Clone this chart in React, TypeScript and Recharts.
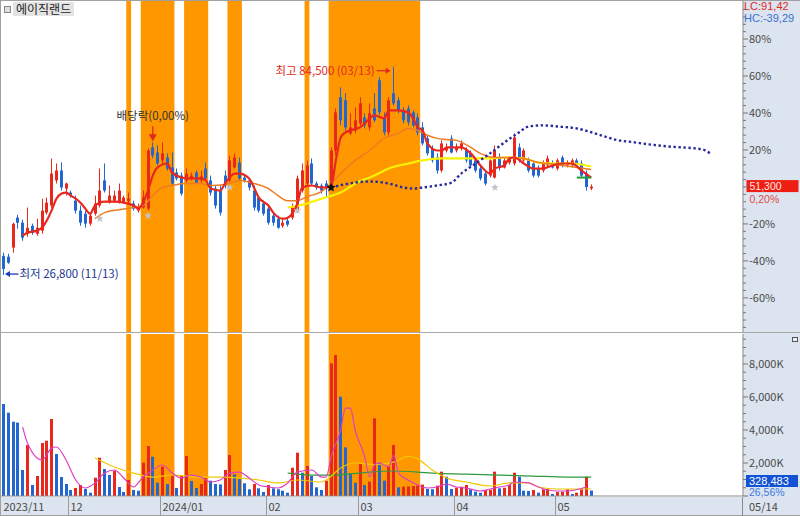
import React from 'react';
import {
  ComposedChart, Bar, Line, XAxis, YAxis, ReferenceArea, ReferenceDot, ReferenceLine,
} from 'recharts';

// ---------------- data ----------------
const stockName = '에이직랜드';
const BASE_PRICE = 51200; // 0% of the percentage scale
const TOTAL_SLOTS = 154; // trading days + future slots for the leading line

const opens = [32100,31900,34400,42700,41300,38250,40450,38250,39100,44100,
 46050,53000,55750,50750,49650,47400,44650,43800,41050,43800,
 46050,53000,46850,47400,46850,46850,47400,46600,44650,45500,
 45200,62150,60750,58550,59350,56600,55200,54350,53000,53550,
 55200,53000,56300,53000,50750,50200,54350,53000,56600,57950,
 53800,53000,50200,48250,46600,45200,43250,42400,40450,41850,
 42700,44650,50200,52150,57700,52150,51600,52150,50750,61300,
 76050,75200,66050,66850,68800,70450,67700,72950,80750,70450,
 66300,77150,75200,72400,72950,71850,70450,67700,64650,61850,
 59350,55750,61300,64650,61300,61850,61300,60500,58550,56300,
 54900,54350,53800,59350,56600,57950,57700,62150,58550,58550,
 57700,56300,55750,57150,57700,56300,59350,57150,57150,58550,
 57700,54900,50800];
const highs = [33000,32700,41300,43500,42150,45500,41050,42400,47950,48250,
 59100,57700,58000,52400,50200,48800,46050,44650,44100,48800,
 56300,57700,51600,50200,52150,48800,49650,47400,46600,50200,
 61850,63550,62700,63550,60500,60750,56300,55200,56300,55200,
 55750,55750,58000,54350,51600,51600,55750,59900,60500,59350,
 54350,53550,51600,48800,47400,46050,44100,43250,42400,42400,
 46600,54350,57700,58550,59100,52700,52150,53000,62150,72950,
 78800,77150,71600,73250,76050,71600,74350,77150,81600,71850,
 76050,84500,76050,73250,73800,72400,71600,69100,65500,62700,
 60500,64100,63250,65500,63250,64100,62150,61300,59350,57150,
 55750,59350,62700,60500,59350,59650,66050,63250,61850,59350,
 58550,57150,58550,59900,58550,59100,59900,58550,59100,59100,
 58550,55750,51900];
const lows = [26800,29900,33000,39650,36300,37400,37950,37700,38250,43550,
 45500,52150,50200,48800,48250,43800,40450,39900,40450,43250,
 45500,49650,46600,46850,46600,46600,46600,44650,44100,45200,
 44650,59100,57150,57700,55750,51600,53000,48800,52400,53000,
 52150,52150,53000,48800,45200,43250,50750,52400,56300,53000,
 52400,50200,44650,44100,43250,40750,40450,39650,39900,40200,
 42150,44100,49650,51600,51600,50450,49350,48250,50200,59900,
 68250,66850,65500,66050,68250,67400,66850,69100,71050,65500,
 65500,73800,71600,68800,68250,67700,65500,62700,59900,57950,
 54900,55200,60750,60500,60750,61300,57950,56600,55200,53000,
 51600,53800,53550,55750,56300,57400,57150,57950,57950,55200,
 53800,53800,55200,56600,56300,55750,56600,56600,56600,56600,
 53800,50200,50300];
const closes = [28500,30200,41000,41300,37150,39900,38550,39900,44650,46850,
 54900,55750,51050,52150,48800,44650,41300,41050,43250,46600,
 50200,50200,48800,48800,50200,48250,47950,45200,45750,48250,
 61300,59900,57700,60500,56300,52150,53550,49350,54900,54350,
 52400,54100,53550,49650,46050,44100,51600,58550,59350,53550,
 53000,51050,45500,44650,43800,41300,41300,39900,41300,40750,
 45500,53550,55750,57150,52150,51050,50200,50750,61300,71850,
 69650,67700,67700,69650,74350,68250,71600,69650,71850,66300,
 75200,74350,72400,69650,69100,68250,66300,63250,60500,58550,
 55750,63250,62150,60750,62150,63250,58550,57150,55750,53550,
 52150,58550,61300,56600,58550,59100,64900,58550,61300,55750,
 54350,54350,57950,59100,56600,58550,57150,57950,58550,57150,
 54350,51200,51300];
// volume in thousands of shares
const volumesK = [5575,5050,4500,4450,1575,3090,666,1212,3212,3350,
 4666,2545,1150,727,364,485,666,424,200,1110,
 2320,1636,1272,1533,545,242,970,364,320,2020,
 3030,2380,806,1776,727,1272,485,1272,2424,909,
 485,727,1090,930,727,700,1575,2485,1313,1030,
 770,406,727,466,242,666,466,406,320,200,
 1715,2626,1413,1818,1212,525,364,930,8040,8545,
 6020,2950,1375,806,1980,666,870,4710,2020,930,
 1818,3090,525,565,580,600,640,690,424,410,
 626,1475,1170,424,505,565,666,406,262,200,
 364,380,1475,466,500,666,1413,1170,320,300,
 364,200,406,420,120,242,260,406,120,200,
 406,1170,328.483];

// moving averages: [day index, value]
const ma5Pts: [number, number][] = [[4,37700],[5,38550],[7,39100],[8,39900],[10,44650],[11,47950],[12,49350],[13,49650],[14,48800],[16,46850],[17,45200],[18,43800],[19,46050],[21,47150],[23,47150],[25,46850],[27,46050],[28,45200],[30,50200],[31,54350],[32,56600],[34,57700],[35,55200],[37,53800],[38,53550],[41,53550],[42,53000],[43,50750],[45,50200],[46,52150],[48,54900],[49,54900],[51,53550],[52,51050],[53,48250],[55,46050],[56,44100],[58,42400],[59,42700],[61,46600],[62,51050],[64,51600],[66,51050],[68,51300],[69,58550],[70,64900],[71,66300],[72,66850],[74,67700],[75,68800],[77,71050],[79,70200],[80,72400],[82,72400],[84,71850],[85,70200],[86,67700],[87,66850],[88,63250],[90,61300],[91,61300],[92,62150],[95,62150],[97,60500],[99,57150],[101,54900],[102,56300],[104,57150],[105,59100],[106,59350],[108,57700],[110,56300],[112,56300],[114,57150],[116,57700],[118,57700],[120,55750],[122,53800]];
const ma20Pts: [number, number][] = [[19,42400],[21,44100],[24,44900],[27,45500],[29,46050],[31,48800],[33,51050],[35,51600],[38,52150],[41,52150],[43,51600],[46,51850],[49,53000],[52,52150],[55,50750],[57,48800],[59,47400],[61,47400],[63,48500],[66,49900],[68,52150],[70,54900],[73,58550],[76,61300],[79,64650],[82,66050],[84,67400],[86,66850],[88,65500],[90,64650],[92,64350],[94,64100],[97,62150],[99,60500],[102,59350],[105,59350],[108,59100],[111,57950],[113,57700],[116,57150],[119,56600],[122,56050]];
const ma60Pts: [number, number][] = [[59,45500],[63,46600],[66,47950],[70,49650],[73,52150],[77,54350],[80,56300],[84,57700],[87,58550],[91,59100],[94,59100],[97,59100],[101,59100],[104,59350],[108,59100],[111,57950],[115,57700],[118,57700],[122,56850]];
const leadPts: [number, number][] = [[68,51050],[73,52400],[76,52700],[80,52150],[83,51050],[85,50750],[87,51050],[90,51600],[93,52400],[95,54900],[98,57700],[101,60500],[104,63550],[107,66300],[109,67950],[112,68250],[115,67950],[119,67400],[124,65500],[127,64300],[131,63550],[134,63000],[138,62400],[141,62150],[145,61600],[147,60200]];
const volMa5Pts: [number, number][] = [[4,4180],[5,3210],[8,2180],[10,2900],[11,2970],[13,2180],[15,970],[17,485],[19,790],[21,1390],[23,1575],[25,1090],[27,545],[29,1150],[31,1575],[33,1880],[35,1390],[37,1090],[39,1270],[41,1150],[43,850],[45,970],[47,1390],[49,1450],[51,1090],[53,667],[55,545],[57,485],[59,790],[61,1450],[64,1575],[66,1150],[67,1150],[68,2360],[70,4000],[71,5330],[72,5330],[73,4000],[75,2360],[76,1150],[77,1880],[78,2000],[80,1760],[81,2480],[82,1390],[84,970],[86,667],[88,485],[90,545],[92,727],[94,545],[96,485],[99,303],[101,424],[103,545],[105,667],[106,850],[109,790],[111,545],[113,364],[115,303],[117,303],[121,545]];
const volMa20Pts: [number, number][] = [[19,2300],[23,1760],[27,1390],[31,1150],[35,1270],[41,1150],[45,1150],[49,1090],[53,970],[57,790],[61,970],[66,850],[67,970],[70,1700],[73,2000],[77,1900],[81,2050],[84,2400],[86,2250],[89,1575],[92,1090],[96,850],[101,606],[105,790],[109,790],[111,545],[115,424],[122,424]];
const volMa60Pts: [number, number][] = [[59,1390],[64,1270],[68,1270],[74,1390],[80,1515],[86,1450],[89,1390],[96,1330],[103,1270],[110,1210],[117,1150],[122,1150]];

const highlightBands: [number, number][] = [[26,26],[29,35],[38,42],[47,49],[63,63],[68,86]];
const monthTicks = [
  { i: 0, label: '2023/11' }, { i: 14, label: '12' }, { i: 33, label: '2024/01' },
  { i: 55, label: '02' }, { i: 74, label: '03' }, { i: 94, label: '04' }, { i: 115, label: '05' },
];
const signalPts: [number, number][] = [[20,42400],[30,43250],[47,51050],[61,44650],[102,51050]];
const starPt: [number, number] = [68, 51050];
const targetSeg: [number, number, number] = [119, 122, 53800];
const HIGH_IDX = 81, LOW_IDX = 0, EXDIV_IDX = 31;
const highDate = '03/13', lowDate = '11/13';
const lastDate = '05/14';
const lcText = 'LC:91,42', hcText = 'HC:-39,29';
const volRatioText = '26,56%';

const pricePctLabels = [-60, -40, -20, 20, 40, 60, 80];
const pricePctMinor = Array.from({ length: 44 }, (_, k) => -76 + k * 4);
const volLabelsK = [2000, 4000, 6000, 8000];
const volMinorK = Array.from({ length: 20 }, (_, k) => k * 500);

// ---------------- build table ----------------
const N = closes.length;
const mk = (pts: [number, number][]) => new Map(pts);
const m5 = mk(ma5Pts), m20 = mk(ma20Pts), m60 = mk(ma60Pts), ml = mk(leadPts);
const v5 = mk(volMa5Pts), v20 = mk(volMa20Pts), v60 = mk(volMa60Pts);
const data = Array.from({ length: TOTAL_SLOTS }, (_, i) => {
  const has = i < N;
  return {
    i,
    range: has ? [lows[i], highs[i]] : null,
    open: has ? opens[i] : null,
    high: has ? highs[i] : null,
    low: has ? lows[i] : null,
    close: has ? closes[i] : null,
    vol: has ? volumesK[i] : null,
    volUp: has && i > 0 ? volumesK[i] > volumesK[i - 1] : false,
    ma5: m5.get(i) ?? null,
    ma20: m20.get(i) ?? null,
    ma60: m60.get(i) ?? null,
    lead: ml.get(i) ?? null,
    vma5: v5.get(i) ?? null,
    vma20: v20.get(i) ?? null,
    vma60: v60.get(i) ?? null,
  };
});

const fmt = (n: number) => Math.round(n).toLocaleString('en-US');
const lastClose = closes[N - 1];
const prevClose = closes[N - 2];
const pctText = (((lastClose / prevClose) - 1) * 100).toFixed(2).replace('.', ',') + '%';
const lastVolText = fmt(volumesK[N - 1] * 1000);

const priceTicks = pricePctMinor.map((p) => BASE_PRICE * (1 + p / 100));
const PRICE_DOMAIN: [number, number] = [10750, 102700];
const VOL_DOMAIN: [number, number] = [0, 9818];

// ---------------- styles ----------------
const FONT = "'Noto Sans CJK KR', 'Noto Sans', sans-serif";
const NUM_FONT = "'Liberation Sans', Arial, sans-serif";
const UP = '#e8271d';
const DOWN = '#2266d2';
const BAND = '#ff9800';
const AXIS_BG = '#dce4ef';
const AXIS_TEXT = '#4a4a4a';

// ---------------- shapes ----------------
const renderCandle = (props: any) => {
  const { x, y, width, height, payload } = props;
  if (!payload || payload.close == null || x == null || y == null) return <g />;
  const top = Math.min(y, y + height);
  const h = Math.abs(height);
  const { open, close, high, low } = payload;
  const span = high - low || 1;
  const toY = (v: number) => top + ((high - v) / span) * h;
  const color = close >= open ? UP : DOWN;
  const cx = Math.floor(x + width / 2) + 0.5;
  const yo = toY(open), yc = toY(close);
  const bt = Math.min(yo, yc);
  const bh = Math.max(1, Math.abs(yo - yc));
  return (
    <g>
      <line x1={cx} x2={cx} y1={top} y2={top + h} stroke={color} strokeWidth={1} />
      <rect x={cx - 1.5} y={bt} width={3} height={bh} fill={color} />
    </g>
  );
};

const renderVolBar = (props: any) => {
  const { x, y, width, height, payload } = props;
  if (!payload || payload.vol == null || x == null) return <g />;
  const cx = Math.floor(x + width / 2) + 0.5;
  const top = Math.min(y, y + height);
  return <rect x={cx - 1.5} y={top} width={3} height={Math.abs(height)} fill={payload.volUp ? UP : DOWN} />;
};

const PriceTick = (props: any) => {
  const { x, y, payload } = props;
  const k = Math.round((payload.value / BASE_PRICE - 1) * 100);
  const major = k % 20 === 0;
  return (
    <g>
      <line x1={x} x2={x + (major ? 5 : 3)} y1={y} y2={y} stroke="#777" />
      {pricePctLabels.includes(k) && (
        <text x={x + 6} y={y + 4} fill={AXIS_TEXT} fontSize={11}>{`${k}%`}</text>
      )}
    </g>
  );
};

const VolTick = (props: any) => {
  const { x, y, payload } = props;
  const v = Math.round(payload.value);
  const major = v % 2000 === 0;
  return (
    <g>
      <line x1={x} x2={x + (major ? 5 : 3)} y1={y} y2={y} stroke="#777" />
      {volLabelsK.includes(v) && (
        <text x={x + 6} y={y + 4} fill={AXIS_TEXT} fontSize={11}>{`${fmt(v)}K`}</text>
      )}
    </g>
  );
};

const MonthTick = (props: any) => {
  const { x, y, payload } = props;
  const m = monthTicks.find((t) => t.i === payload.value);
  const off = payload.offset ?? 2.41;
  const left = Math.round(x - off) + 0.5;
  return (
    <g>
      {payload.value !== 0 && <line x1={left} x2={left} y1={y} y2={y + 20} stroke="#9a9a9a" />}
      <text x={left + 2} y={y + 15} fill={AXIS_TEXT} fontSize={11}>{m ? m.label : ''}</text>
    </g>
  );
};

const PriceTag = (props: any) => {
  const vb = props.viewBox;
  if (!vb) return null;
  const x = vb.x + vb.width + 3.5;
  const y = vb.y;
  return (
    <g fontFamily={NUM_FONT}>
      <rect x={x} y={y - 6.5} width={52} height={12} fill="#ee1f12" />
      <text x={x + 3} y={y + 3.5} fill="#ffe8e8" fontSize={10.5}>{fmt(lastClose)}</text>
      <text x={x + 3} y={y + 16.5} fill="#e04848" fontSize={10.5}>{pctText}</text>
    </g>
  );
};

const Star = ({ cx, cy, fill, r }: any) => {
  const pts: string[] = [];
  for (let k = 0; k < 10; k++) {
    const ang = -Math.PI / 2 + (k * Math.PI) / 5;
    const rr = k % 2 === 0 ? r : r * 0.45;
    pts.push(`${cx + rr * Math.cos(ang)},${cy + rr * Math.sin(ang)}`);
  }
  return <polygon points={pts.join(' ')} fill={fill} />;
};

const HighNote = (p: any) => (
  <g>
    <text x={p.cx - 19} y={p.cy + 8} textAnchor="end" fill="#e02a1e" fontSize={11.5}>
      {`최고 ${fmt(highs[HIGH_IDX])} (${highDate})`}
    </text>
    <line x1={p.cx - 17} x2={p.cx - 7} y1={p.cy + 4} y2={p.cy + 4} stroke="#e02a1e" strokeWidth={1.3} />
    <polygon points={`${p.cx - 3},${p.cy + 4} ${p.cx - 8},${p.cy + 1} ${p.cx - 8},${p.cy + 7}`} fill="#e02a1e" />
  </g>
);

const LowNote = (p: any) => (
  <g>
    <line x1={p.cx + 6} x2={p.cx + 15} y1={p.cy - 1} y2={p.cy - 1} stroke="#1c3cc0" strokeWidth={1.3} />
    <polygon points={`${p.cx + 1.5},${p.cy - 1} ${p.cx + 6.5},${p.cy - 4} ${p.cx + 6.5},${p.cy + 2}`} fill="#1c3cc0" />
    <text x={p.cx + 16} y={p.cy + 3} fill="#22348c" fontSize={11.5}>
      {`최저 ${fmt(lows[LOW_IDX])} (${lowDate})`}
    </text>
  </g>
);

const ExDivNote = (p: any) => (
  <g>
    <text x={p.cx} y={p.cy - 22} textAnchor="middle" fill="#333" fontSize={11.5}>배당락(0,00%)</text>
    <line x1={p.cx} x2={p.cx} y1={p.cy - 16} y2={p.cy - 7} stroke="#e02a1e" strokeWidth={1.3} />
    <polygon points={`${p.cx - 4},${p.cy - 8} ${p.cx + 4},${p.cy - 8} ${p.cx},${p.cy - 1}`} fill="#e02a1e" />
  </g>
);

// ---------------- component ----------------
export default function App() {
  return (
    <div style={{ position: 'absolute', left: 0, top: 0, width: 800, height: 516, background: '#fff', overflow: 'hidden', fontFamily: FONT }}>
      <div style={{ position: 'absolute', left: 743, top: 0, width: 57, height: 516, background: AXIS_BG }} />
      <div style={{ position: 'absolute', left: 0, top: 497, width: 800, height: 19, background: AXIS_BG }} />

      <div style={{ position: 'absolute', left: 0, top: 0 }}>
        <ComposedChart width={800} height={333} data={data} margin={{ top: 1, right: 0, bottom: 0, left: 1 }} barCategoryGap={0} barGap={0}>
          <XAxis dataKey="i" type="category" hide />
          <YAxis orientation="right" width={57} type="number" domain={PRICE_DOMAIN} allowDataOverflow ticks={priceTicks} interval={0}
            tick={(p: any) => <PriceTick {...p} />} tickLine={false} tickSize={0} tickMargin={0} axisLine={{ stroke: '#8a8a8a' }} />
          {highlightBands.map(([a, b]) => (
            <ReferenceArea key={`pb${a}`} x1={a} x2={b} fill={BAND} fillOpacity={1} stroke="none" />
          ))}
          <Bar dataKey="range" shape={renderCandle} isAnimationActive={false} />
          <Line dataKey="ma60" stroke="#f6f200" strokeWidth={2.2} dot={false} connectNulls type="monotone" isAnimationActive={false} />
          <Line dataKey="ma20" stroke="#ef7b22" strokeWidth={1.5} dot={false} connectNulls type="monotone" isAnimationActive={false} />
          <Line dataKey="ma5" stroke="#e8271d" strokeWidth={2.2} dot={false} connectNulls type="monotone" isAnimationActive={false} />
          <Line dataKey="lead" stroke="#262a9c" strokeWidth={2.4} strokeDasharray="2.4 2.6" dot={false} connectNulls type="monotone" isAnimationActive={false} />
          <ReferenceLine segment={[{ x: targetSeg[0], y: targetSeg[2] }, { x: targetSeg[1], y: targetSeg[2] }]} stroke="#2a9a3a" strokeWidth={2} />
          {signalPts.map(([i, v]) => (
            <ReferenceDot key={`s${i}`} x={i} y={v} r={3} shape={(p: any) => <Star cx={p.cx} cy={p.cy} r={4} fill="#c4c4c4" />} />
          ))}
          <ReferenceDot x={starPt[0]} y={starPt[1]} r={3} shape={(p: any) => <Star cx={p.cx} cy={p.cy} r={5} fill="#111" />} />
          <ReferenceDot x={HIGH_IDX} y={highs[HIGH_IDX]} r={0} shape={(p: any) => <HighNote {...p} />} />
          <ReferenceDot x={LOW_IDX} y={lows[LOW_IDX]} r={0} shape={(p: any) => <LowNote {...p} />} />
          <ReferenceDot x={EXDIV_IDX} y={highs[EXDIV_IDX]} r={0} shape={(p: any) => <ExDivNote {...p} />} />
          <ReferenceLine y={lastClose} stroke="none" label={<PriceTag />} />
        </ComposedChart>
      </div>

      <div style={{ position: 'absolute', left: 0, top: 333 }}>
        <ComposedChart width={800} height={183} data={data} margin={{ top: 1, right: 0, bottom: 0, left: 1 }} barCategoryGap={0} barGap={0}>
          <XAxis dataKey="i" type="category" height={20} ticks={monthTicks.map((m) => m.i)} interval={0}
            tick={(p: any) => <MonthTick {...p} />} tickLine={false} tickSize={0} tickMargin={0} axisLine={{ stroke: '#8a8a8a' }} />
          <YAxis orientation="right" width={57} type="number" domain={VOL_DOMAIN} allowDataOverflow ticks={volMinorK} interval={0}
            tick={(p: any) => <VolTick {...p} />} tickLine={false} tickSize={0} tickMargin={0} axisLine={{ stroke: '#8a8a8a' }} />
          {highlightBands.map(([a, b]) => (
            <ReferenceArea key={`vb${a}`} x1={a} x2={b} fill={BAND} fillOpacity={1} stroke="none" />
          ))}
          <Bar dataKey="vol" shape={renderVolBar} isAnimationActive={false} />
          <Line dataKey="vma60" stroke="#2f9a3c" strokeWidth={1.2} dot={false} connectNulls type="monotone" isAnimationActive={false} />
          <Line dataKey="vma20" stroke="#f0c800" strokeWidth={1.2} dot={false} connectNulls type="monotone" isAnimationActive={false} />
          <Line dataKey="vma5" stroke="#de3fc4" strokeWidth={1.2} dot={false} connectNulls type="monotone" isAnimationActive={false} />
        </ComposedChart>
      </div>

      {/* frame lines */}
      <div style={{ position: 'absolute', left: 0, top: 0, width: 1, height: 516, background: '#a0a0a0' }} />
      <div style={{ position: 'absolute', left: 0, top: 0, width: 800, height: 1, background: '#a0a0a0' }} />
      <div style={{ position: 'absolute', left: 0, top: 332, width: 800, height: 1, background: '#a8a8a8' }} />
      <div style={{ position: 'absolute', left: 0, top: 515, width: 800, height: 1, background: '#a0a0a0' }} />
      <div style={{ position: 'absolute', left: 742, top: 497, width: 1, height: 19, background: '#8a8a8a' }} />

      {/* title */}
      <div style={{ position: 'absolute', left: 4, top: 6, width: 5, height: 5, border: '1px solid #888', background: '#ddd' }} />
      <div style={{ position: 'absolute', left: 13, top: 2, padding: '0 3px', height: 14, lineHeight: '14px', background: '#e4e4e4', color: '#222', fontSize: 12 }}>{stockName}</div>

      {/* right side info */}
      <div style={{ position: 'absolute', left: 744, top: 1, color: '#e02a1e', fontFamily: NUM_FONT, fontSize: 11, lineHeight: '11px' }}>{lcText}</div>
      <div style={{ position: 'absolute', left: 744, top: 13, color: '#3d6fcf', fontFamily: NUM_FONT, fontSize: 11, lineHeight: '11px' }}>{hcText}</div>
      <div style={{ position: 'absolute', left: 792, top: 337, width: 4, height: 3, border: '1px solid #555', background: '#eee' }} />
      <div style={{ position: 'absolute', left: 746, top: 475, width: 52, height: 12, background: '#1252d4', color: '#fff', fontFamily: NUM_FONT, fontSize: 11, lineHeight: '12px', paddingLeft: 3, boxSizing: 'border-box' }}>{lastVolText}</div>
      <div style={{ position: 'absolute', left: 749, top: 488, color: '#3a78dc', fontFamily: NUM_FONT, fontSize: 10.5, lineHeight: '9px' }}>{volRatioText}</div>
      <div style={{ position: 'absolute', left: 749, top: 499, color: AXIS_TEXT, fontSize: 11, lineHeight: '15px' }}>{lastDate}</div>
    </div>
  );
}
